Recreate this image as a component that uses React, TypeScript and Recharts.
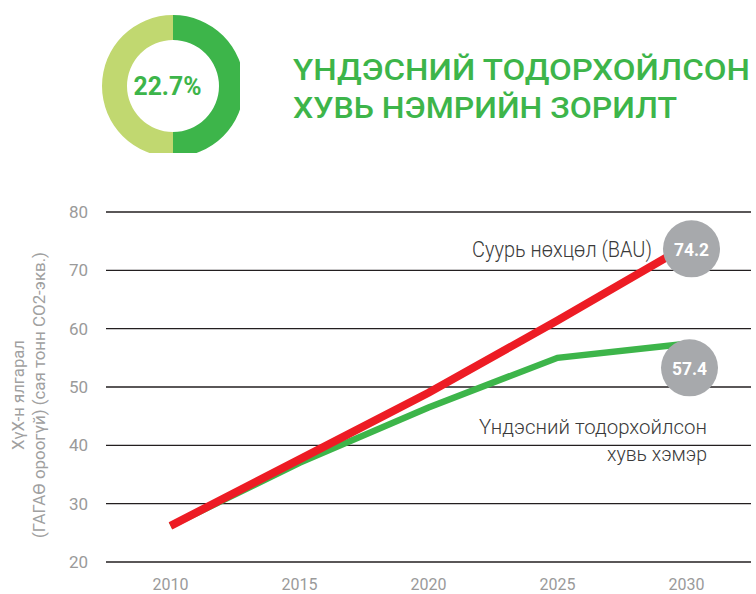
import React from 'react';
import { LineChart, Line, XAxis, YAxis, CartesianGrid, PieChart, Pie, Cell } from 'recharts';

const years = [2010, 2015, 2020, 2025, 2030];
const bauValues = [26.2, 37.6, 49.0, 61.4, 74.2];
const ndcValues = [26.2, 37.0, 46.5, 55.0, 57.4];
const yTicks = [20, 30, 40, 50, 60, 70, 80];
const donutValues = [50, 50];
const donutColors = ['#3db54a', '#c1d870'];
const donutLabel = '22.7%';
const titleLines = ['ҮНДЭСНИЙ ТОДОРХОЙЛСОН', 'ХУВЬ НЭМРИЙН ЗОРИЛТ'];
const bauLabel = 'Суурь нөхцөл (BAU)';
const ndcLabelLines = ['Үндэсний тодорхойлсон', 'хувь хэмэр'];
const yAxisTitle = ['ХүХ-н ялгарал', '(ГАГАӨ ороогүй) (сая тонн CO2-экв.)'];

const data = years.map((year, i) => ({ year, bau: bauValues[i], ndc: ndcValues[i] }));
const donutData = donutValues.map((v, i) => ({ name: 'part' + i, value: v }));

const FONT = 'Roboto, "Noto Sans", sans-serif';

const makeEndLabel = (dx: number, dy: number) => (props: any) => {
  const { x, y, index, value } = props;
  if (index !== data.length - 1) return null;
  const cx = x + dx;
  const cy = y + dy;
  return (
    <g>
      <circle cx={cx} cy={cy} r={28.5} fill="#a7a9ac" />
      <text
        x={cx}
        y={cy}
        dy="0.36em"
        textAnchor="middle"
        fill="#ffffff"
        fontWeight={700}
        fontSize={19}
        fontFamily={FONT}
        textLength={35}
        lengthAdjust="spacingAndGlyphs"
      >
        {value}
      </text>
    </g>
  );
};

export default function App() {
  return (
    <div style={{ position: 'relative', width: 756, height: 594, background: '#fff', fontFamily: FONT }}>
      <style>{`body{margin:0}`}</style>
      <div style={{ position: 'absolute', left: 0, top: 0 }}>
        <LineChart
          width={756}
          height={594}
          data={data}
          margin={{ top: 212, right: 5, bottom: 0, left: 0 }}
        >
          <CartesianGrid horizontal vertical={false} stroke="#231f20" strokeWidth={1.3} />
          <XAxis
            dataKey="year"
            type="number"
            domain={[2007.5, 2032.5]}
            ticks={years}
            height={32}
            axisLine={false}
            tickLine={false}
            tickSize={0}
            tickMargin={17}
            tick={{ fill: '#9a9a9a', fontSize: 16, fontFamily: FONT }}
          />
          <YAxis
            type="number"
            domain={[20, 80]}
            ticks={yTicks}
            width={106}
            axisLine={false}
            tickLine={false}
            tickSize={0}
            tickMargin={18}
            tick={{ fill: '#9a9a9a', fontSize: 17, fontFamily: FONT }}
          />
          <Line
            dataKey="ndc"
            type="linear"
            stroke="#3db54a"
            strokeWidth={6.5}
            dot={false}
            isAnimationActive={false}
            label={makeEndLabel(3, 24)}
          />
          <Line
            dataKey="bau"
            type="linear"
            stroke="#ed1c24"
            strokeWidth={8}
            dot={false}
            isAnimationActive={false}
            label={makeEndLabel(5, 3)}
          />
        </LineChart>
      </div>
      <div style={{ position: 'absolute', left: 96, top: 9 }}>
        <PieChart width={144} height={144}>
          <Pie
            data={donutData}
            dataKey="value"
            cx={72}
            cy={72}
            innerRadius={46}
            outerRadius={71}
            startAngle={90}
            endAngle={-270}
            stroke="none"
            isAnimationActive={false}
          >
            {donutData.map((d, i) => (
              <Cell key={d.name} fill={donutColors[i]} />
            ))}
          </Pie>
        </PieChart>
      </div>
      <svg
        width={756}
        height={594}
        style={{ position: 'absolute', left: 0, top: 0, pointerEvents: 'none' }}
      >
        <text
          x={167.5}
          y={95}
          textAnchor="middle"
          fill="#3db54a"
          fontWeight={700}
          fontSize={26}
          fontFamily={FONT}
          textLength={68}
          lengthAdjust="spacingAndGlyphs"
        >
          {donutLabel}
        </text>
        <text
          x={293}
          y={79.5}
          fill="#3db54a"
          fontWeight={500}
          fontSize={29.5}
          fontFamily={FONT}
          textLength={457}
          lengthAdjust="spacingAndGlyphs"
        >
          {titleLines[0]}
        </text>
        <text
          x={293}
          y={117.5}
          fill="#3db54a"
          fontWeight={500}
          fontSize={29.5}
          fontFamily={FONT}
          textLength={384}
          lengthAdjust="spacingAndGlyphs"
        >
          {titleLines[1]}
        </text>
        <text
          x={23.5}
          y={395}
          transform="rotate(-90 23.5 395)"
          textAnchor="middle"
          fill="#a0a0a0"
          fontSize={17}
          fontFamily={FONT}
          textLength={110}
          lengthAdjust="spacingAndGlyphs"
        >
          {yAxisTitle[0]}
        </text>
        <text
          x={45}
          y={395}
          transform="rotate(-90 45 395)"
          textAnchor="middle"
          fill="#a0a0a0"
          fontSize={17}
          fontFamily={FONT}
          textLength={286}
          lengthAdjust="spacingAndGlyphs"
        >
          {yAxisTitle[1]}
        </text>
        <text
          x={652}
          y={257}
          textAnchor="end"
          fill="#3a3a3a"
          fontWeight={300}
          fontSize={22}
          fontFamily={FONT}
          textLength={180}
          lengthAdjust="spacingAndGlyphs"
        >
          {bauLabel}
        </text>
        <text
          x={707}
          y={434}
          textAnchor="end"
          fill="#3a3a3a"
          fontWeight={300}
          fontSize={21}
          fontFamily={FONT}
          textLength={228}
          lengthAdjust="spacingAndGlyphs"
        >
          {ndcLabelLines[0]}
        </text>
        <text
          x={707}
          y={461}
          textAnchor="end"
          fill="#3a3a3a"
          fontWeight={300}
          fontSize={21}
          fontFamily={FONT}
          textLength={100}
          lengthAdjust="spacingAndGlyphs"
        >
          {ndcLabelLines[1]}
        </text>
      </svg>
    </div>
  );
}
